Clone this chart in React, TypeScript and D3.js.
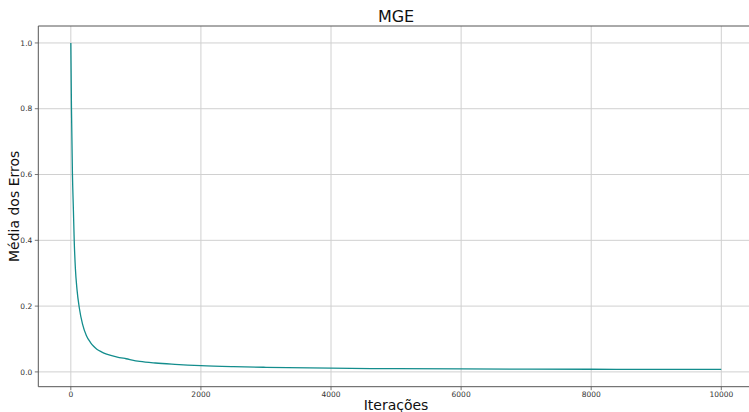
import React from "react";
import * as d3 from "d3";

const iterations = [0, 10, 25, 40, 52, 70, 95, 130, 180, 240, 300, 350, 400, 470, 550, 700, 850, 1060, 1300, 1600, 2000, 2500, 3000, 4000, 5000, 6000, 7000, 8000, 9000, 9999];
const errors = [1.0, 0.8, 0.6, 0.49, 0.4, 0.315, 0.25, 0.195, 0.145, 0.11, 0.09, 0.078, 0.069, 0.061, 0.054, 0.046, 0.04, 0.032, 0.027, 0.023, 0.019, 0.016, 0.014, 0.0112, 0.0098, 0.009, 0.0085, 0.008, 0.0077, 0.0074];
const xTicks = [0, 2000, 4000, 6000, 8000, 10000];
const yTicks = [0.0, 0.2, 0.4, 0.6, 0.8, 1.0];
const title = "MGE";
const xLabel = "Iterações";
const yLabel = "Média dos Erros";

const W = 749;
const H = 412;
const left = 38.3;
const right = 753.8;
const top = 26;
const bottom = 386.7;

export default function App() {
  const x = d3.scaleLinear().domain([-500, 10499.5]).range([left, right]);
  const y = d3.scaleLinear().domain([-0.045, 1.0515]).range([bottom, top]);
  const pts: [number, number][] = iterations.map((t, i) => [t, errors[i]]);
  const line = d3
    .line<[number, number]>()
    .x((d) => x(d[0]))
    .y((d) => y(d[1]))
    .curve(d3.curveMonotoneX);
  const font = "DejaVu Sans, sans-serif";
  const cx = (left + right) / 2;
  return (
    <svg width={W} height={H} style={{ position: "absolute", left: 0, top: 0, background: "#fff" }}>
      <defs>
        <clipPath id="plot">
          <rect x={left} y={top} width={right - left} height={bottom - top} />
        </clipPath>
      </defs>
      <g clipPath="url(#plot)">
        {xTicks.map((t) => (
          <line key={"gx" + t} x1={x(t)} x2={x(t)} y1={top} y2={bottom} stroke="#d0d0d0" strokeWidth={1} />
        ))}
        {yTicks.map((t) => (
          <line key={"gy" + t} x1={left} x2={right} y1={y(t)} y2={y(t)} stroke="#d0d0d0" strokeWidth={1} />
        ))}
        <path d={line(pts) || ""} fill="none" stroke="#138d8d" strokeWidth={1.3} />
      </g>
      <line x1={left} x2={right} y1={top} y2={top} stroke="#555" strokeWidth={1} />
      <line x1={left} x2={right} y1={bottom} y2={bottom} stroke="#555" strokeWidth={1} />
      <line x1={left} x2={left} y1={top} y2={bottom} stroke="#555" strokeWidth={1} />
      {xTicks.map((t) => (
        <g key={"tx" + t}>
          <line x1={x(t)} x2={x(t)} y1={bottom} y2={bottom + 3.5} stroke="#555" strokeWidth={0.8} />
          <text x={x(t)} y={bottom + 10.5} textAnchor="middle" fontFamily={font} fontSize={7.5} fill="#333">
            {String(t)}
          </text>
        </g>
      ))}
      {yTicks.map((t) => (
        <g key={"ty" + t}>
          <line x1={left - 3.5} x2={left} y1={y(t)} y2={y(t)} stroke="#555" strokeWidth={0.8} />
          <text x={left - 6} y={y(t) + 2.7} textAnchor="end" fontFamily={font} fontSize={7.5} fill="#333">
            {t.toFixed(1)}
          </text>
        </g>
      ))}
      <text x={cx} y={22} textAnchor="middle" fontFamily={font} fontSize={16} fill="#111">
        {title}
      </text>
      <text x={cx} y={410} textAnchor="middle" fontFamily={font} fontSize={14} fill="#111">
        {xLabel}
      </text>
      <text
        transform={`translate(19, ${(top + bottom) / 2}) rotate(-90)`}
        textAnchor="middle"
        fontFamily={font}
        fontSize={14}
        fill="#111"
      >
        {yLabel}
      </text>
    </svg>
  );
}
